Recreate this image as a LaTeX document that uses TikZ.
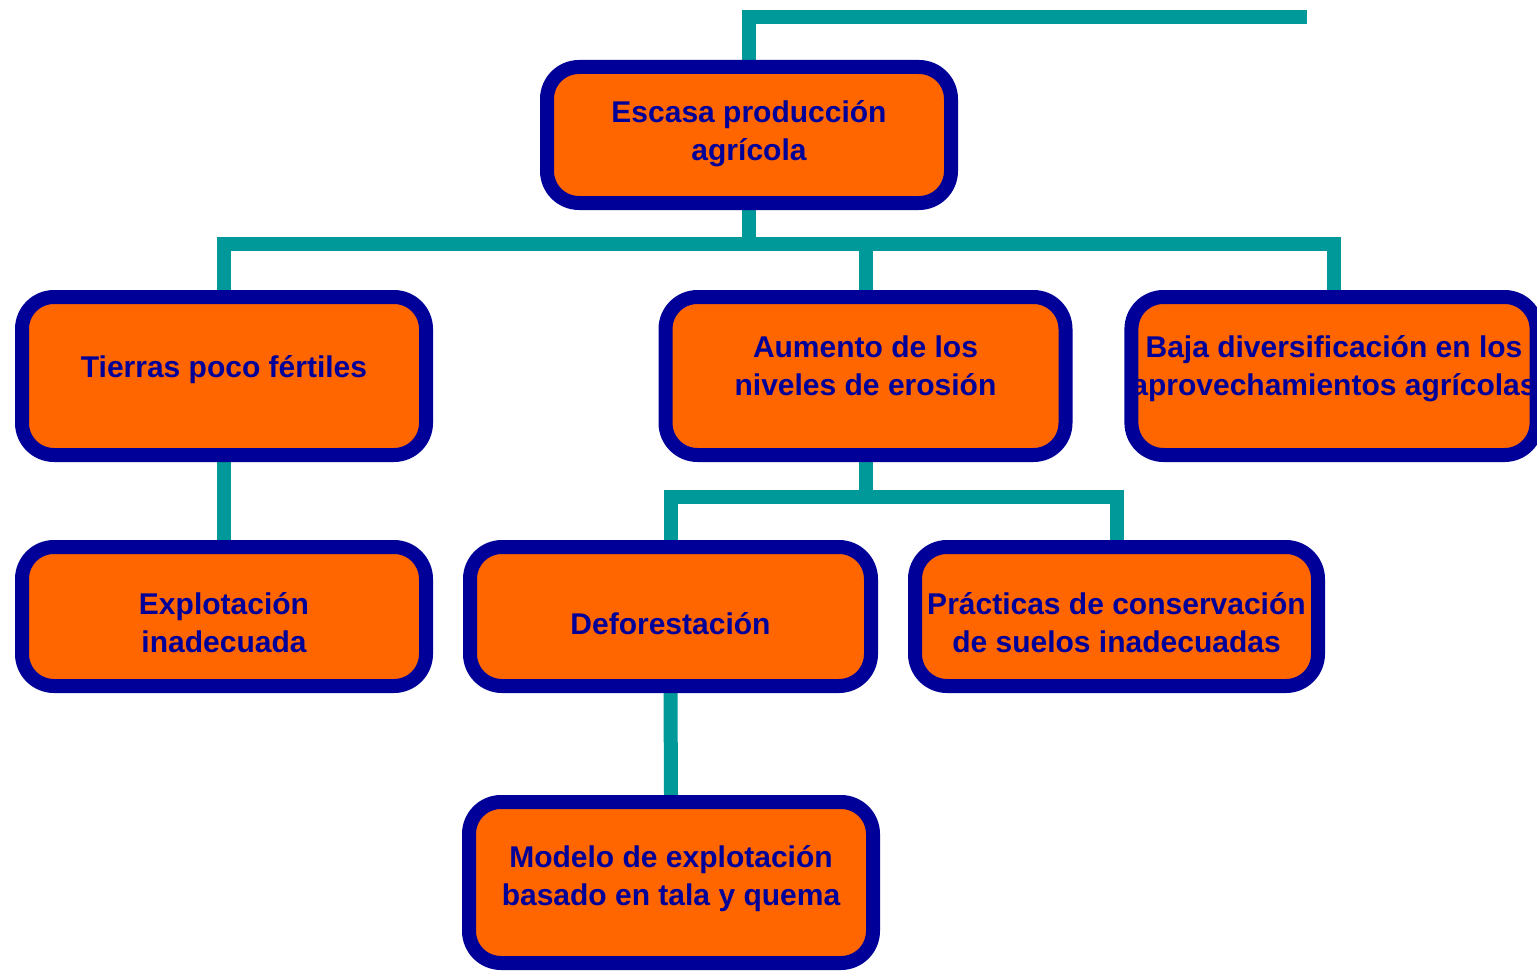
\documentclass[tikz,border=0pt]{standalone}
\usepackage{fontspec}
\setmainfont{Liberation Sans}
\usetikzlibrary{backgrounds}
\definecolor{boxnavy}{HTML}{000099}
\definecolor{boxorange}{HTML}{FF6600}
\definecolor{linkteal}{HTML}{009999}
% box text, raised or lowered inside its box while keeping its natural size
\newcommand{\boxtext}[2]{\raisebox{#1}[\height][\depth]{\begin{tabular}{@{}c@{}}#2\end{tabular}}}
\begin{document}
\begin{tikzpicture}[x=0.5pt,y=-0.5pt,
  box/.style={draw=boxnavy, line width=7pt, fill=boxorange, rounded corners=16pt,
    text=boxnavy, font=\bfseries\fontsize{15}{19}\selectfont, align=center,
    inner sep=0pt},
  link/.style={draw=linkteal, line width=7pt, line join=miter}]
\useasboundingbox (0,0) rectangle (1537,974);

% cause boxes
\node[box, minimum width=202pt, minimum height=68pt] (top) at (749,135)
  {\boxtext{0.5pt}{Escasa producción\\agrícola}};
\node[box, minimum width=202pt, minimum height=79pt] (tierras) at (224,376)
  {\boxtext{3pt}{Tierras poco fértiles}};
\node[box, minimum width=200pt, minimum height=79pt] (aumento) at (865.5,376)
  {\boxtext{3.5pt}{Aumento de los\\niveles de erosión}};
\node[box, minimum width=200pt, minimum height=79pt] (baja) at (1334,376)
  {\boxtext{3.5pt}{Baja diversificación en los\\aprovechamientos agrícolas}};
\node[box, minimum width=202pt, minimum height=69.5pt] (explotacion) at (224,616.5)
  {\boxtext{-4.5pt}{Explotación\\inadecuada}};
\node[box, minimum width=200.5pt, minimum height=69.5pt] (deforest) at (670.5,616.5)
  {\boxtext{-5pt}{Deforestación}};
\node[box, minimum width=201.5pt, minimum height=69.5pt] (practicas) at (1116.5,616.5)
  {\boxtext{-4.5pt}{Prácticas de conservación\\de suelos inadecuadas}};
\node[box, minimum width=202pt, minimum height=80.5pt] (modelo) at (671,882.5)
  {\boxtext{1.75pt}{Modelo de explotación\\basado en tala y quema}};

% connectors behind the boxes
\coordinate (topend) at (1307,17);
\coordinate (bus1) at (749,244);
\coordinate (bus2) at (865.5,497);
\begin{scope}[on background layer]
  \draw[link] (topend) -| (top.north);
  \draw[link] (top.south) -- (bus1);
  \draw[link] (tierras.north) |- (bus1) -| (baja.north);
  \draw[link] (aumento.north) -- (aumento.north |- bus1);
  \draw[link] (tierras.south) -- (explotacion.north);
  \draw[link] (aumento.south) -- (bus2);
  \draw[link] (deforest.north) |- (bus2) -| (practicas.north);
  \draw[link] (deforest.south) -- (modelo.north);
\end{scope}
\end{tikzpicture}
\end{document}
